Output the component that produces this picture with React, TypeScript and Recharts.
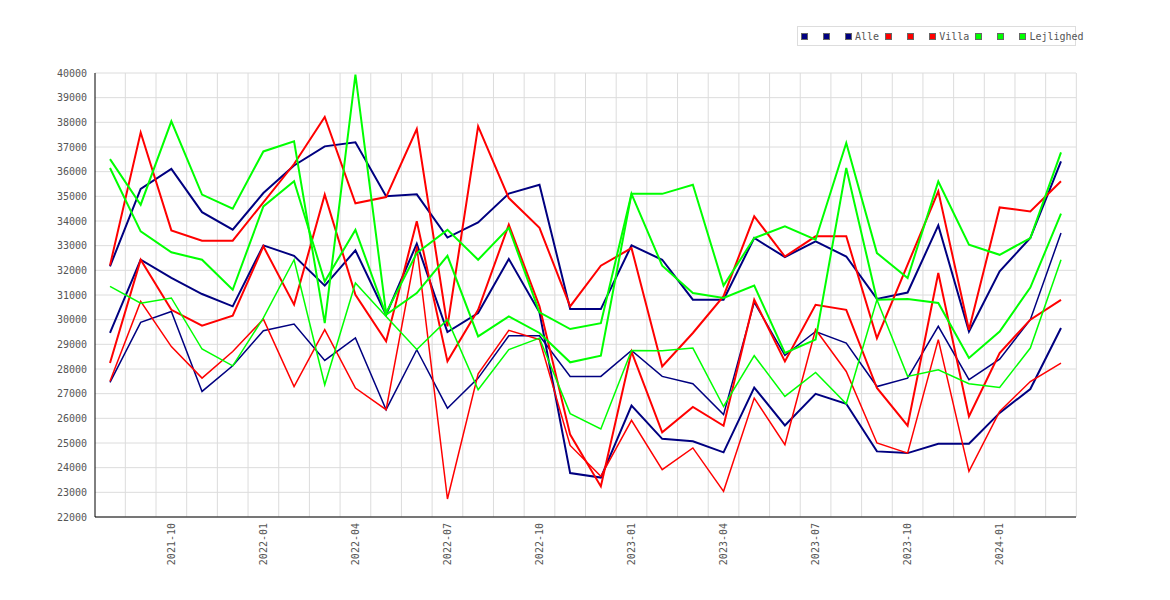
import React from 'react';
import { LineChart, Line, XAxis, YAxis, CartesianGrid, Legend } from 'recharts';

const months = [
  '2021-08', '2021-09', '2021-10', '2021-11', '2021-12',
  '2022-01', '2022-02', '2022-03', '2022-04', '2022-05', '2022-06',
  '2022-07', '2022-08', '2022-09', '2022-10', '2022-11', '2022-12',
  '2023-01', '2023-02', '2023-03', '2023-04', '2023-05', '2023-06',
  '2023-07', '2023-08', '2023-09', '2023-10', '2023-11', '2023-12',
  '2024-01', '2024-02', '2024-03',
];

const quarterLabels = [
  '2021-10', '2022-01', '2022-04', '2022-07', '2022-10',
  '2023-01', '2023-04', '2023-07', '2023-10', '2024-01',
];

const yTicks = [
  22000, 23000, 24000, 25000, 26000, 27000, 28000, 29000, 30000, 31000,
  32000, 33000, 34000, 35000, 36000, 37000, 38000, 39000, 40000,
];

// Alle
const alleHigh = [32160, 35300, 36110, 34360, 33650, 35135, 36250, 37025, 37190, 35000, 35080, 33330, 33940, 35110, 35470, 30430, 30430, 33010, 32430, 30810, 30810, 33310, 32540, 33170, 32560, 30840, 31100, 33820, 29520, 31960, 33310, 36420];
const alleMid = [29460, 32430, 31690, 31040, 30540, 33010, 32590, 31380, 32810, 30200, 33080, 29500, 30270, 32460, 30300, 23780, 23600, 26520, 25170, 25070, 24620, 27250, 25710, 26990, 26590, 24660, 24590, 24970, 24970, 26220, 27190, 29660];
const alleLow = [27460, 29890, 30330, 27090, 28130, 29550, 29820, 28350, 29260, 26350, 28780, 26410, 27630, 29350, 29350, 27700, 27700, 28750, 27700, 27400, 26150, 30700, 28550, 29520, 29050, 27290, 27630, 29730, 27570, 28400, 30000, 33510];

// Villa
const villaHigh = [32200, 37590, 33620, 33200, 33200, 34760, 36310, 38220, 34720, 34970, 37730, 29730, 37840, 34930, 33720, 30540, 32190, 32900, 28100, 29460, 30950, 34190, 32560, 33380, 33380, 29250, 32230, 35200, 29590, 34550, 34390, 35610];
const villaMid = [28240, 32430, 30400, 29760, 30160, 32970, 30610, 35070, 31010, 29120, 33990, 28310, 30400, 33850, 30540, 25340, 23240, 28700, 25430, 26460, 25700, 30810, 28310, 30600, 30400, 27230, 25700, 31890, 26080, 28650, 30000, 30800];
const villaLow = [27500, 30740, 28910, 27630, 28710, 30020, 27290, 29600, 27230, 26350, 32970, 22730, 27800, 29570, 29190, 24900, 23650, 25920, 23920, 24800, 23040, 26820, 24930, 29600, 27900, 25000, 24590, 29190, 23850, 26280, 27490, 28240];

// Lejlighed
const lejlighedHigh = [36510, 34660, 38040, 35070, 34500, 36820, 37230, 29860, 39930, 30270, 32700, 33640, 32430, 33720, 30300, 29620, 29860, 35100, 35100, 35470, 31380, 33310, 33780, 33240, 37160, 32700, 31690, 35600, 33040, 32630, 33310, 36780];
const lejlighedMid = [36150, 33580, 32730, 32430, 31210, 34590, 35610, 31550, 33640, 30200, 31080, 32590, 29320, 30130, 29460, 28270, 28540, 35100, 32190, 31080, 30880, 31380, 28650, 29190, 36150, 30810, 30840, 30680, 28450, 29520, 31300, 34300];
const lejlighedLow = [31350, 30670, 30880, 28810, 28130, 30070, 32430, 27360, 31490, 30130, 28790, 30000, 27160, 28790, 29250, 26190, 25570, 28750, 28740, 28850, 26480, 28540, 26890, 27860, 26590, 30810, 27700, 27970, 27400, 27250, 28850, 32430];

const NAVY = '#000080';
const RED = '#ff0000';
const GREEN = '#00ff00';
const MONO = '"DejaVu Sans Mono", monospace';
const X_PAD = 15;

const series = [
  { key: 'alleHigh', values: alleHigh, color: NAVY, label: '', width: 2 },
  { key: 'alleMid', values: alleMid, color: NAVY, label: '', width: 2 },
  { key: 'alleLow', values: alleLow, color: NAVY, label: 'Alle', width: 1.5 },
  { key: 'villaHigh', values: villaHigh, color: RED, label: '', width: 2 },
  { key: 'villaMid', values: villaMid, color: RED, label: '', width: 2 },
  { key: 'villaLow', values: villaLow, color: RED, label: 'Villa', width: 1.5 },
  { key: 'lejlighedHigh', values: lejlighedHigh, color: GREEN, label: '', width: 2 },
  { key: 'lejlighedMid', values: lejlighedMid, color: GREEN, label: '', width: 2 },
  { key: 'lejlighedLow', values: lejlighedLow, color: GREEN, label: 'Lejlighed', width: 1.5 },
];

const data = months.map((month, i) => {
  const row: Record<string, string | number> = { month };
  series.forEach((s) => {
    row[s.key] = s.values[i];
  });
  return row;
});

const QuarterTick = (props: any) => {
  const { x, y, payload } = props;
  if (!quarterLabels.includes(payload.value)) return null;
  return (
    <text
      transform={`translate(${x},${y}) rotate(-90)`}
      textAnchor="end"
      dy="0.35em"
      fill="#555"
      fontSize={10}
      fontFamily={MONO}
    >
      {payload.value}
    </text>
  );
};

const LegendBox = () => (
  <div
    style={{
      display: 'flex',
      alignItems: 'center',
      boxSizing: 'border-box',
      width: 279,
      height: 20,
      padding: '0 3px',
      border: '1px solid #ddd',
      background: '#fff',
      fontFamily: MONO,
      fontSize: 10,
      color: '#555',
      whiteSpace: 'nowrap',
    }}
  >
    {series.map((s) => (
      <span key={s.key} style={{ display: 'flex', alignItems: 'center', flexShrink: 0, marginRight: 6 }}>
        <span
          style={{
            display: 'inline-block',
            width: 5,
            height: 5,
            background: s.color,
            border: '1px solid #666',
            marginRight: 3,
          }}
        />
        <span style={{ whiteSpace: 'pre' }}>{s.label || '\u00a0'}</span>
      </span>
    ))}
  </div>
);

// grid lines sit between the months, like the band edges of the original
const bandEdges = ({ offset }: any) => {
  const step = (offset.width - 2 * X_PAD) / (months.length - 1);
  return months.map((_, i) => offset.left + X_PAD + step * (i + 0.5));
};

export default function App() {
  return (
    <div style={{ width: 1154, height: 584, background: '#fff' }}>
      <LineChart
        width={1154}
        height={584}
        data={data}
        margin={{ top: 65, right: 86, bottom: 15, left: 0 }}
      >
        <CartesianGrid stroke="#dcdcdc" verticalCoordinatesGenerator={bandEdges} />
        <XAxis
          dataKey="month"
          interval={0}
          padding={{ left: X_PAD, right: X_PAD }}
          height={60}
          stroke="#000"
          tickLine={false}
          tickMargin={0}
          axisLine={{ stroke: '#000', strokeWidth: 1 }}
          tick={<QuarterTick />}
        />
        <YAxis
          domain={[22000, 40000]}
          ticks={yTicks}
          width={87}
          stroke="#000"
          tickLine={false}
          axisLine={{ stroke: '#000', strokeWidth: 1 }}
          tick={{ fill: '#555', fontSize: 10, fontFamily: MONO }}
          allowDataOverflow
        />
        <Legend
          layout="horizontal"
          verticalAlign="middle"
          align="center"
          content={<LegendBox />}
          wrapperStyle={{ top: 18, left: 789, width: 279, height: 20 }}
        />
        {series.map((s) => (
          <Line
            key={s.key}
            type="linear"
            dataKey={s.key}
            name={s.label || s.key}
            stroke={s.color}
            strokeWidth={s.width}
            dot={false}
            activeDot={false}
            isAnimationActive={false}
          />
        ))}
      </LineChart>
    </div>
  );
}
